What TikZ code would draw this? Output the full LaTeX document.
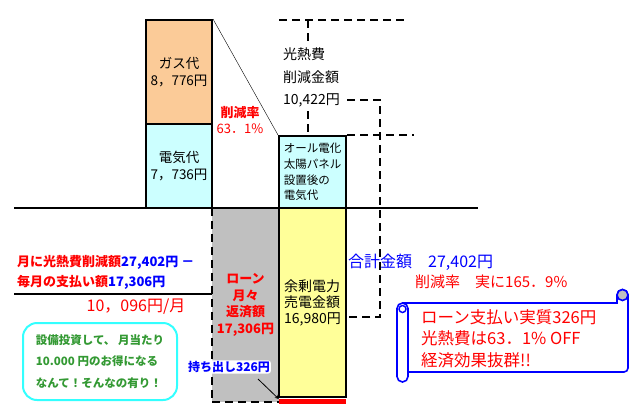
\documentclass[tikz,border=0pt]{standalone}
\usepackage{fontspec}
\setmainfont{Noto Sans CJK JP}
\usepackage{tikz}
\usetikzlibrary{arrows}
\usetikzlibrary{positioning}
\definecolor{gasorange}{HTML}{FBCB98}
\definecolor{elecyan}{HTML}{CCFFFF}
\definecolor{sellyellow}{HTML}{FFFF99}
\definecolor{loangray}{HTML}{C0C0C0}
\definecolor{adgreen}{HTML}{339933}
\definecolor{adcyan}{HTML}{33FFFF}
\tikzset{
  bar/.style={draw, line width=2pt, minimum width=66pt, inner sep=0pt, align=center},
  dline/.style={line width=1.8pt, dash pattern=on 8pt off 5pt},
  mid/.style={font=\fontsize{13.5}{17}\selectfont},
  small/.style={font=\fontsize{11.5}{15.7}\selectfont},
  redbold/.style={text=red, font=\bfseries\fontsize{13}{16.5}\selectfont},
}

\begin{document}
\begin{tikzpicture}[x=1pt,y=-1pt]
\useasboundingbox (0,0) rectangle (644,416);
\node[bar, mid, fill=gasorange, minimum height=104pt] (gas) at (179,72) {ガス代\\8，776円};
\node[bar, mid, fill=elecyan, minimum height=84pt] (elec) at (179,166) {電気代\\7，736円};
\node[bar, small, fill=elecyan, minimum width=67pt, minimum height=72pt, align=left] (after) at (312.5,172) {オール電化\\太陽パネル\\設置後の\\電気代};
\node[fill=loangray, minimum width=67pt, minimum height=194pt, inner sep=0pt, redbold, align=center] (loan) at (245.5,305) {ローン\\月々\\返済額\\17,306円};
\node[bar, fill=sellyellow, minimum width=67pt, minimum height=189pt, align=left, font=\fontsize{14}{16}\selectfont] (sell) at (312.5,302.5) {余剰電力\\売電金額\\16,980円};
\node[fill=red, minimum width=67pt, minimum height=5pt, inner sep=0pt, below=1pt of sell] (redbar) {};
\draw[dline] (loan.north west) -- (loan.south west) -- (loan.south east);

\coordinate (baseL) at (14,208);
\coordinate (baseR) at (478,208);
\coordinate (netL) at (14,294);
\draw[line width=2pt] (baseL) -- (baseR);
\draw[line width=2pt] (netL) -- (netL -| loan.west);
\draw[thin] (gas.north east) -- (after.north west);

\node[red, align=center, font=\fontsize{13}{16}\selectfont] (rate) at (240,120) {\textbf{削減率}\\63．1\%};
\node[anchor=west, inner sep=0pt, align=left, font=\fontsize{14}{22.5}\selectfont] (save) at (283,77.5) {光熱費\\削減金額\\10,422円};

\coordinate (topL) at (279,20);
\coordinate (topR) at (408,20);
\coordinate (vTop) at (308,20);
\coordinate (vUp) at (308,44);
\coordinate (vDown) at (308,111);
\coordinate (kinkA) at (380,100);
\coordinate (kinkB) at (380,317);
\coordinate (tipStart) at (258,379);
\draw[dline] (topL) -- (topR);
\draw[dline] (vTop) -- (vUp);
\draw[dline] (vDown) -- (vDown |- after.north);
\draw[dline] (kinkA -| after.east) -- (kinkA) -- (kinkB) -- (kinkB -| sell.east);
\draw[dline] (after.north east) -- ++(67,0);

\node[anchor=west, inner sep=0pt, font=\bfseries\fontsize{13}{16}\selectfont] (gainline) at (17,262) {\textcolor{red}{月に光熱費削減額}\textcolor{blue}{27,402円 －}};
\node[anchor=west, inner sep=0pt, font=\bfseries\fontsize{13}{16}\selectfont] (payline) at (17,282) {\textcolor{red}{毎月の支払い額}\textcolor{blue}{17,306円}};
\node[red, font=\fontsize{16}{18}\selectfont] (net) at (136,307) {10，096円/月};

\node[draw=adcyan, line width=2pt, rounded corners=14pt, minimum width=154pt, minimum height=77pt, align=left, text=adgreen, font=\bfseries\fontsize{11.5}{21.5}\selectfont] (ad) at (100,361.5) {設備投資して、 月当たり\\10.000 円のお得になる\\なんて！そんなの有り！};

\node[blue, fill=white, rounded corners=3pt, inner sep=1pt, font=\bfseries\fontsize{12}{14}\selectfont] (carry) at (229,367) {持ち出し326円};
\draw[-stealth, line width=0.8pt] (tipStart) -- (redbar.north west);

\node[blue, anchor=west, inner sep=0pt, font=\fontsize{16}{18}\selectfont] (total) at (348,262) {合計金額　27,402円};
\node[red, anchor=west, inner sep=0pt, font=\fontsize{15}{17}\selectfont] (ratio) at (415,282) {削減率　実に165．9\%};

\draw[blue, line width=1.6pt, fill=white] (403,303) -- (617,303) -- (617,295) arc[start angle=180, end angle=360, radius=5.5] [rounded corners=4pt] -- (628,372) -- (403,372) [sharp corners] -- cycle;
\draw[blue, line width=1.6pt, fill=loangray] (622.5,295) circle[radius=5.5];
\draw[blue, line width=1.6pt, fill=white, rounded corners=5.5pt] (397,303) rectangle (408,382);
\draw[blue, line width=1.4pt] (402.5,309) circle[radius=3.5];
\node[red, anchor=west, inner sep=0pt, align=left, font=\fontsize{16.5}{21.5}\selectfont] (scroll) at (421,338.5) {ローン支払い実質326円\\光熱費は63．1\% OFF\\経済効果抜群!!};
\end{tikzpicture}
\end{document}
